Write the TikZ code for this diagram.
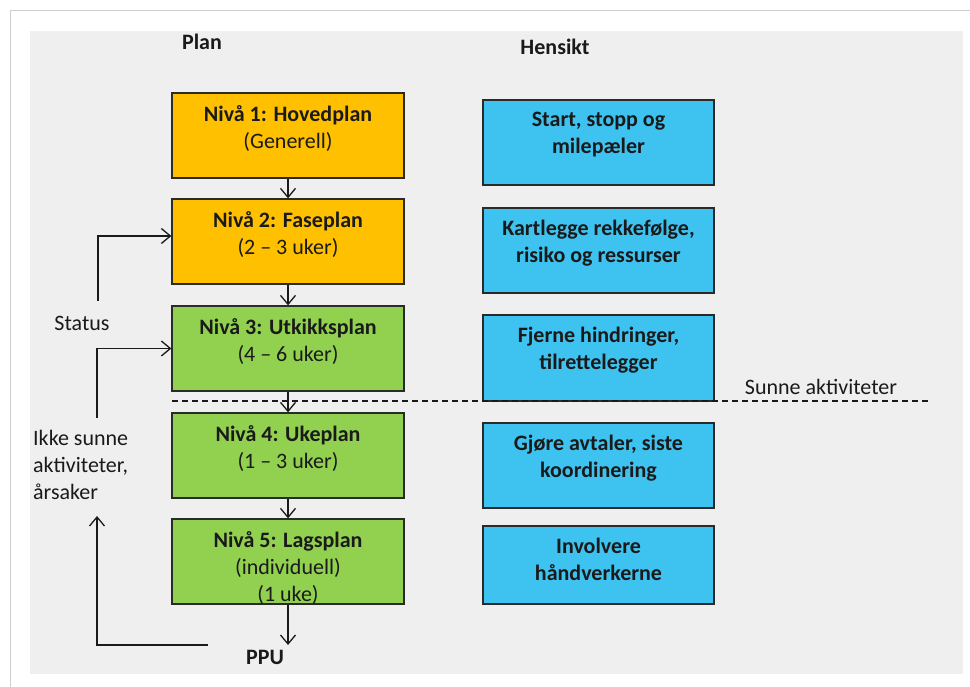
\documentclass[tikz,border=0pt]{standalone}
\usepackage{fontspec}
\setmainfont{Carlito}
\usetikzlibrary{positioning,arrows.meta}
\definecolor{bgGray}{HTML}{EFEFEF}
\definecolor{frameGray}{HTML}{CFCFCF}
\definecolor{planOrange}{HTML}{FFC000}
\definecolor{planGreen}{HTML}{92D050}
\definecolor{aimBlue}{HTML}{3EC2F0}
\definecolor{boxLine}{HTML}{2A2A2A}
\definecolor{inkBlack}{HTML}{1A1A1A}
\begin{document}
\begin{tikzpicture}[x=1pt,y=-1pt,
    planbox/.style={draw=boxLine, line width=1.3pt, minimum width=232pt, minimum height=85pt, inner sep=0pt},
    aimbox/.style={planbox, fill=aimBlue, minimum width=231pt},
    boxtext/.style={inner sep=0pt, align=center, text=inkBlack, font=\fontsize{22}{27}\selectfont},
    plaintext/.style={inner sep=0pt, text=inkBlack, font=\fontsize{22}{27}\selectfont},
    headtext/.style={plaintext, font=\fontsize{22}{27}\selectfont\bfseries},
    flow/.style={line width=1.3pt, draw=inkBlack, -{Straight Barb[length=9pt,width=15pt,line width=1.3pt]}}]
    \useasboundingbox (0,0) rectangle (970,687);
    \fill [bgGray] (30,31) rectangle (963,674);% background
    \draw [frameGray, line width=1pt] (10,700) -- (10,11) -- (980,11);% frame
    % headers
    \node [headtext] (PlanHead) at (202,42) {Plan};
    \node [headtext] (AimHead)  at (555,47) {Hensikt};
    % plan levels
    \node [planbox, fill=planOrange] (Level1) at (288,135.5) {};
    \node [planbox, fill=planOrange] (Level2) at (288,241.5) {};
    \node [planbox, fill=planGreen]  (Level3) at (288,348.5) {};
    \node [planbox, fill=planGreen]  (Level4) at (288,455.5) {};
    \node [planbox, fill=planGreen]  (Level5) at (288,561.5) {};
    \node [boxtext, below=13pt of Level1.north] (Level1Text) {\textbf{Nivå 1: Hovedplan}\\(Generell)};
    \node [boxtext, below=13pt of Level2.north] (Level2Text) {\textbf{Nivå 2: Faseplan}\\(2 – 3 uker)};
    \node [boxtext, below=13pt of Level3.north] (Level3Text) {\textbf{Nivå 3: Utkikksplan}\\(4 – 6 uker)};
    \node [boxtext, below=13pt of Level4.north] (Level4Text) {\textbf{Nivå 4: Ukeplan}\\(1 – 3 uker)};
    \node [boxtext, below=13pt of Level5.north] (Level5Text) {\textbf{Nivå 5: Lagsplan}\\(individuell)\\(1 uke)};
    % purposes
    \node [aimbox] (Aim1) at (598.5,142.5) {};
    \node [aimbox] (Aim2) at (598.5,250.5) {};
    \node [aimbox, minimum height=86pt] (Aim3) at (598.5,358) {};
    \node [aimbox] (Aim4) at (598.5,465.5) {};
    \node [aimbox, minimum height=78pt] (Aim5) at (598.5,565) {};
    \node [boxtext, font=\fontsize{22}{27}\selectfont\bfseries, below=13pt of Aim1.north] (Aim1Text) {Start, stopp og\\milepæler};
    \node [boxtext, font=\fontsize{22}{27}\selectfont\bfseries, below=13pt of Aim2.north] (Aim2Text) {Kartlegge rekkefølge,\\risiko og ressurser};
    \node [boxtext, font=\fontsize{22}{27}\selectfont\bfseries, below=13pt of Aim3.north] (Aim3Text) {Fjerne hindringer,\\tilrettelegger};
    \node [boxtext, font=\fontsize{22}{27}\selectfont\bfseries, below=13pt of Aim4.north] (Aim4Text) {Gjøre avtaler, siste\\koordinering};
    \node [boxtext, font=\fontsize{22}{27}\selectfont\bfseries, below=13pt of Aim5.north] (Aim5Text) {Involvere\\håndverkerne};
    % flow down the levels
    \draw [flow] (Level1) -- (Level2);
    \draw [flow] (Level2) -- (Level3);
    \draw [flow] (Level3) -- (Level4);
    \draw [flow] (Level4) -- (Level5);
    \coordinate (PPUIn) at (288,645);
    \draw [flow] (Level5) -- (PPUIn);
    \node [headtext] (PPU) at (265,657) {PPU};
    % healthy activities border
    \coordinate (HealthyLeft)  at (172,401);
    \coordinate (HealthyRight) at (928,401);
    \draw [inkBlack, line width=1.2pt, dash pattern=on 6pt off 4pt] (HealthyLeft) -- (HealthyRight);
    \node [plaintext] (Healthy) at (821,387) {Sunne aktiviteter};
    % feedback loops
    \node [plaintext] (Status) at (82,323) {Status};
    \node [plaintext, align=left, anchor=north west] (Causes) at (33,430) {Ikke sunne\\aktiviteter,\\årsaker};
    \coordinate (StatusStart)   at (98,301);
    \coordinate (CausesStart)   at (97,418);
    \coordinate (FeedbackStart) at (208,645);
    \coordinate (FeedbackEnd)   at (97,516);
    \draw [flow] (StatusStart) |- ([yshift=5.5pt]Level2.west);
    \draw [flow] (CausesStart) |- (Level3.west);
    \draw [flow] (FeedbackStart) -| (FeedbackEnd);
\end{tikzpicture}
\end{document}
